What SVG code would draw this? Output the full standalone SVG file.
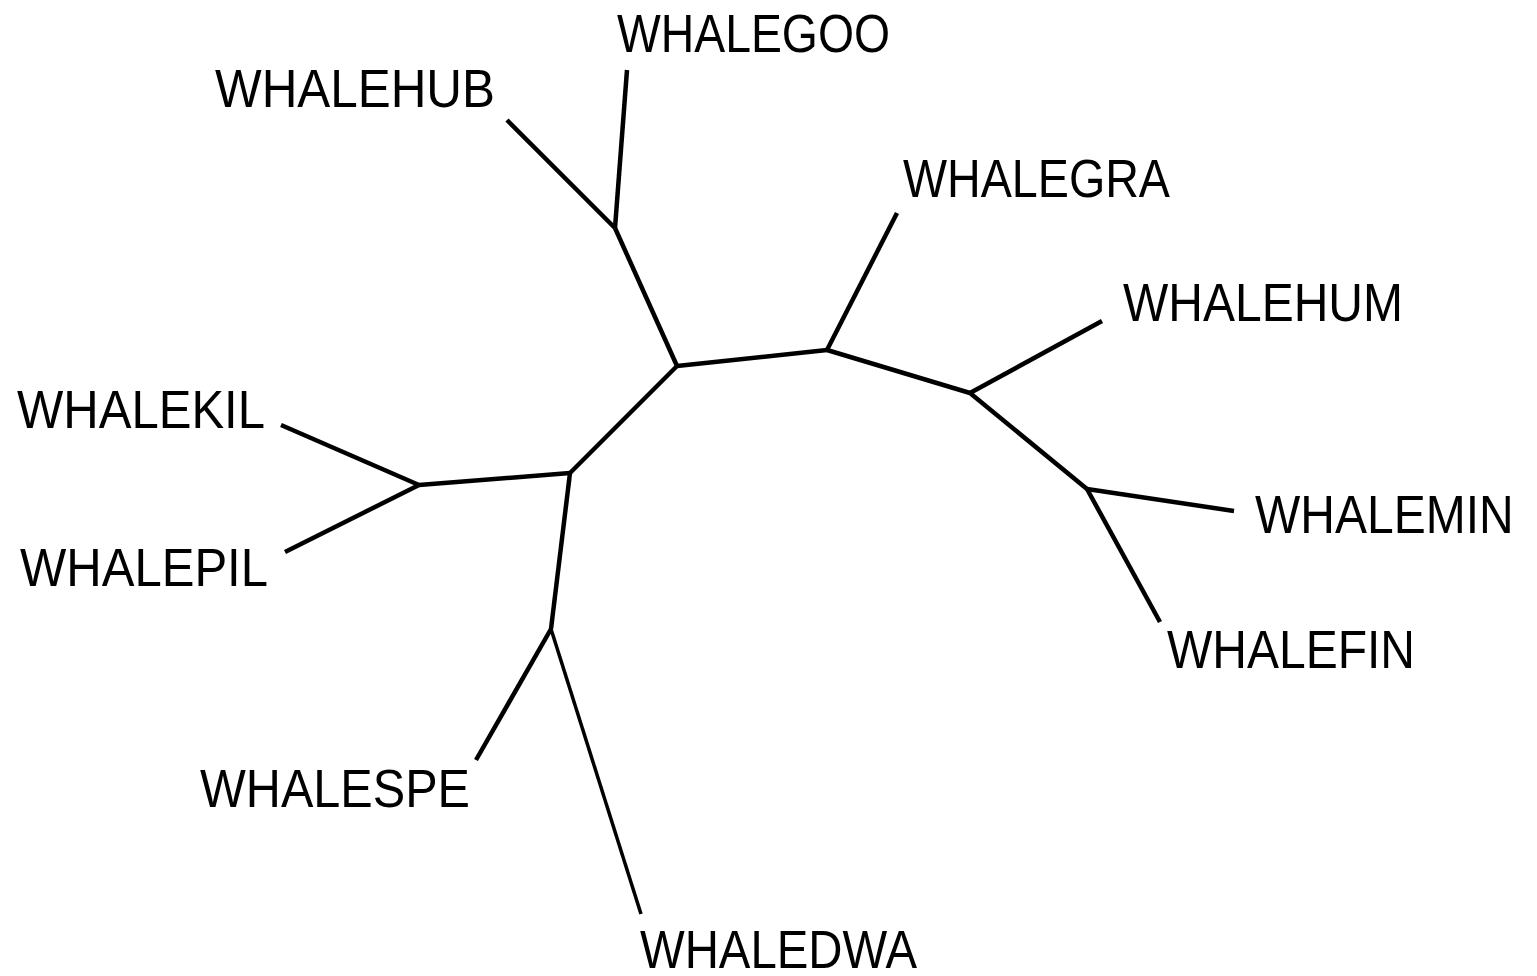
<svg xmlns="http://www.w3.org/2000/svg" width="1537" height="976" viewBox="0 0 1537 976">
<style>
.e{stroke:#000;stroke-width:4.5;fill:none;stroke-linecap:butt;stroke-linejoin:round}
.t{font-family:"Liberation Sans",Arial,sans-serif;font-size:54px;fill:#000}
</style>
<rect width="1537" height="976" fill="#fff"/>
<g id="connectors">
<path class="e" d="M615,228 L627,70"/>
<path class="e" d="M615,228 L507,120"/>
<path class="e" d="M615,228 L677,366"/>
<path class="e" d="M677,366 L827,350"/>
<path class="e" d="M827,350 L897,213"/>
<path class="e" d="M827,350 L970,393"/>
<path class="e" d="M970,393 L1102,321"/>
<path class="e" d="M970,393 L1087,489"/>
<path class="e" d="M1087,489 L1234,511"/>
<path class="e" d="M1087,489 L1160,622"/>
<path class="e" d="M677,366 L570,473"/>
<path class="e" d="M570,473 L419,485"/>
<path class="e" d="M419,485 L281,425"/>
<path class="e" d="M419,485 L285,552"/>
<path class="e" d="M570,473 L551,629"/>
<path class="e" d="M551,629 L476,760"/>
<path class="e" d="M551,629 L641,914" style="stroke-width:3.5"/>
</g>
<g id="WHALEGOO"><text class="t" x="617" y="52" textLength="273" lengthAdjust="spacingAndGlyphs">WHALEGOO</text></g>
<g id="WHALEHUB"><text class="t" x="215" y="107" textLength="280" lengthAdjust="spacingAndGlyphs">WHALEHUB</text></g>
<g id="WHALEGRA"><text class="t" x="903" y="197" textLength="267" lengthAdjust="spacingAndGlyphs">WHALEGRA</text></g>
<g id="WHALEHUM"><text class="t" x="1123" y="321" textLength="280" lengthAdjust="spacingAndGlyphs">WHALEHUM</text></g>
<g id="WHALEKIL"><text class="t" x="17" y="428" textLength="248" lengthAdjust="spacingAndGlyphs">WHALEKIL</text></g>
<g id="WHALEPIL"><text class="t" x="20" y="586" textLength="248" lengthAdjust="spacingAndGlyphs">WHALEPIL</text></g>
<g id="WHALEMIN"><text class="t" transform="translate(1255,533) scale(1,1.125)" x="0" y="0" style="font-size:48px">WHALEMIN</text></g>
<g id="WHALEFIN"><text class="t" x="1167" y="668" textLength="248" lengthAdjust="spacingAndGlyphs">WHALEFIN</text></g>
<g id="WHALESPE"><text class="t" x="200" y="807" textLength="270" lengthAdjust="spacingAndGlyphs">WHALESPE</text></g>
<g id="WHALEDWA"><text class="t" x="640" y="968" textLength="277" lengthAdjust="spacingAndGlyphs">WHALEDWA</text></g>
</svg>
